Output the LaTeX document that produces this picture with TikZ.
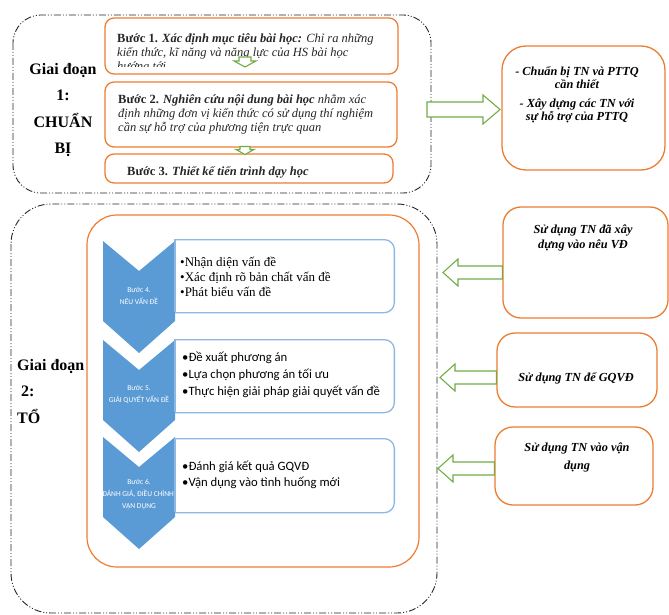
\documentclass[tikz,border=0pt]{standalone}
\usepackage{fontspec}
\setmainfont{Liberation Serif}
\newfontfamily\calfont{Carlito}
\usetikzlibrary{calc}
\definecolor{orng}{HTML}{ED7D31}
\definecolor{chev}{HTML}{5B9BD5}
\definecolor{bbord}{HTML}{8DB8E4}
\definecolor{grn}{HTML}{70AD47}
\tikzset{
  phase/.style={draw=black!85, line width=0.9pt, dash pattern=on 7pt off 2pt on 1pt off 2pt on 1pt off 2pt},
  stepbox/.style={draw=orng, line width=1.3pt, rounded corners=9pt, fill=white, inner sep=0pt},
  sidebox/.style={draw=orng, line width=1.3pt, rounded corners=18pt, fill=white, inner sep=0pt},
  bluebox/.style={draw=bbord, line width=1.3pt, rounded corners=10pt, fill=white, inner sep=0pt},
  chevshape/.style={fill=chev},
  blockarrow/.style={draw=grn, line width=1.1pt, fill=white, line join=miter},
  steptext/.style={inner sep=0pt, align=left, text=black!85, font=\fontsize{12.5}{14.3}\selectfont},
  sidetext/.style={inner sep=0pt, align=center, font=\fontsize{12.3}{13.5}\selectfont\bfseries\itshape},
  chevtext/.style={inner sep=0pt, align=center, text=white, font=\calfont\fontsize{7.5}{12}\selectfont},
  phasetext/.style={inner sep=0pt, font=\fontsize{16}{26.5}\selectfont\bfseries},
}
\begin{document}
\begin{tikzpicture}[x=1pt,y=-1pt]
\useasboundingbox (0,0) rectangle (669,615);

% ---------- Phase 1 ----------
\draw[phase, rounded corners=28pt] (13,15) rectangle (431,193);
\node[phasetext, align=center] (g1) at (63,110) {Giai đoạn\\1:\\CHUẨN\\BỊ};

\node[stepbox, minimum width=293pt, minimum height=56pt] (s1) at (251.5,46) {};
\node[stepbox, minimum width=292pt, minimum height=65pt] (s2) at (251,114.5) {};
\node[stepbox, minimum width=288pt, minimum height=29pt] (s3) at (249,168.5) {};

\begin{scope}
\clip (106,19) rectangle (397,66.5);
\node[steptext, anchor=north west] (t1) at (117,33) {\textbf{Bước 1.} \textbf{\textit{Xác định mục tiêu bài học:}} \textit{Chỉ ra những}\\\textit{kiến thức, kĩ năng và năng lực của HS bài học}\\\textit{hướng tới}};
\end{scope}
\node[steptext, anchor=west] (t2) at (118,114.5) {\textbf{Bước 2.} \textbf{\textit{Nghiên cứu nội dung bài học}} \textit{nhằm xác}\\\textit{định những đơn vị kiến thức có sử dụng thí nghiệm}\\\textit{cần sự hỗ trợ của phương tiện trực quan}};
\node[steptext, anchor=west, font=\fontsize{12.5}{14}\selectfont\bfseries] (t3) at (127,172) {Bước 3. \textit{Thiết kế tiến trình dạy học}};

% small down arrows
\coordinate (d1) at (245,57);
\draw[blockarrow] ($(d1)+(-6,0)$) -- ($(d1)+(6,0)$) -- ($(d1)+(6,4)$) -- ($(d1)+(11,4)$) -- ($(d1)+(0,10)$) -- ($(d1)+(-11,4)$) -- ($(d1)+(-6,4)$) -- cycle;
\coordinate (d2) at (245,146.5);
\draw[blockarrow] ($(d2)+(-5,0)$) -- ($(d2)+(5,0)$) -- ($(d2)+(5,3)$) -- ($(d2)+(9,3)$) -- ($(d2)+(0,8)$) -- ($(d2)+(-9,3)$) -- ($(d2)+(-5,3)$) -- cycle;

% right top box
\node[sidebox, minimum width=163pt, minimum height=124pt, rounded corners=24pt] (r0) at (583.5,108) {};
\node[sidetext] (r0t) at (577,94.5) {- Chuẩn bị TN và PTTQ\\cần thiết\\[5pt]- Xây dựng các TN với\\sự hỗ trợ của PTTQ};
\draw[blockarrow] (427,102) -- (483,102) -- (483,95) -- (500,109.5) -- (483,124) -- (483,117) -- (427,117) -- cycle;

% ---------- Phase 2 ----------
\draw[phase, rounded corners=40pt] (11,204) rectangle (437,613);
\node[phasetext, align=left, anchor=north west] (g2) at (17,359) {Giai đoạn\\\ 2:\\TỔ};

\node[draw=orng, line width=1.2pt, rounded corners=30pt, minimum width=332pt, minimum height=352pt, inner sep=0pt] (inner) at (253,391) {};

% chevrons
\foreach \T/\nm in {241/c1,340/c2,437/c3}{
  \fill[chevshape] (103,\T) -- (139,\T+30) -- (175,\T) -- (175,\T+80) -- (139,\T+112) -- (103,\T+80) -- cycle;
}
\node[chevtext] (c1t) at (139,296) {Bước 4.\\NÊU VẤN ĐỀ};
\node[chevtext] (c2t) at (139,394) {Bước 5.\\GIẢI QUYẾT VẤN ĐỀ};
\node[chevtext] (c3t) at (139,495) {Bước 6.\\ĐÁNH GIÁ, ĐIỀU CHỈNH,\\VẬN DỤNG};

% blue boxes with square left side
\begin{scope}
\clip (175,230) rectangle (400,520);
\node[bluebox, minimum width=240pt, minimum height=73pt, anchor=north east] (b1) at (395,239) {};
\node[bluebox, minimum width=240pt, minimum height=73pt, anchor=north east] (b2) at (395,339) {};
\node[bluebox, minimum width=240pt, minimum height=74pt, anchor=north east] (b3) at (395,438) {};
\end{scope}
\foreach \a/\b in {239/312,339/412,438/512}{
  \draw[draw=bbord, line width=1.3pt] (175,\a) -- (175,\b);
}
\node[inner sep=0pt, anchor=west, align=left, font=\fontsize{13}{15}\selectfont] (b1t) at (180,277) {•Nhận diện vấn đề\\•Xác định rõ bản chất vấn đề\\•Phát biểu vấn đề};
\node[inner sep=0pt, anchor=west, align=left, font=\calfont\fontsize{12.7}{17}\selectfont] (b2t) at (182,375) {•Đề xuất phương án\\•Lựa chọn phương án tối ưu\\•Thực hiện giải pháp giải quyết vấn đề};
\node[inner sep=0pt, anchor=west, align=left, font=\calfont\fontsize{12.7}{16}\selectfont] (b3t) at (182,475) {•Đánh giá kết quả GQVĐ\\•Vận dụng vào tình huống mới};

% right boxes phase 2
\node[sidebox, minimum width=165pt, minimum height=111pt] (ra) at (585.5,262.5) {};
\node[sidetext, font=\fontsize{12.3}{15}\selectfont\bfseries\itshape] (rat) at (583,237.5) {Sử dụng TN đã xây\\dựng vào nêu VĐ};
\node[sidebox, minimum width=160pt, minimum height=74pt] (rb) at (577,370) {};
\node[sidetext] (rbt) at (576,378) {Sử dụng TN để GQVĐ};
\node[sidebox, minimum width=158pt, minimum height=78pt] (rc) at (574,466) {};
\node[sidetext, font=\fontsize{12.3}{18}\selectfont\bfseries\itshape] (rct) at (577,457.5) {Sử dụng TN vào vận\\dụng};

% left-pointing block arrows
\draw[blockarrow] (ra.west|-0,266) -- (458,266) -- (458,259) -- (443,272.5) -- (458,286) -- (458,279) -- (ra.west|-0,279) -- cycle;
\draw[blockarrow] (rb.west|-0,371) -- (455,371) -- (455,364) -- (440,377.5) -- (455,391) -- (455,384) -- (rb.west|-0,384) -- cycle;
\draw[blockarrow] (rc.west|-0,462) -- (453,462) -- (453,455) -- (438,468.5) -- (453,482) -- (453,475) -- (rc.west|-0,475) -- cycle;
\end{tikzpicture}
\end{document}
